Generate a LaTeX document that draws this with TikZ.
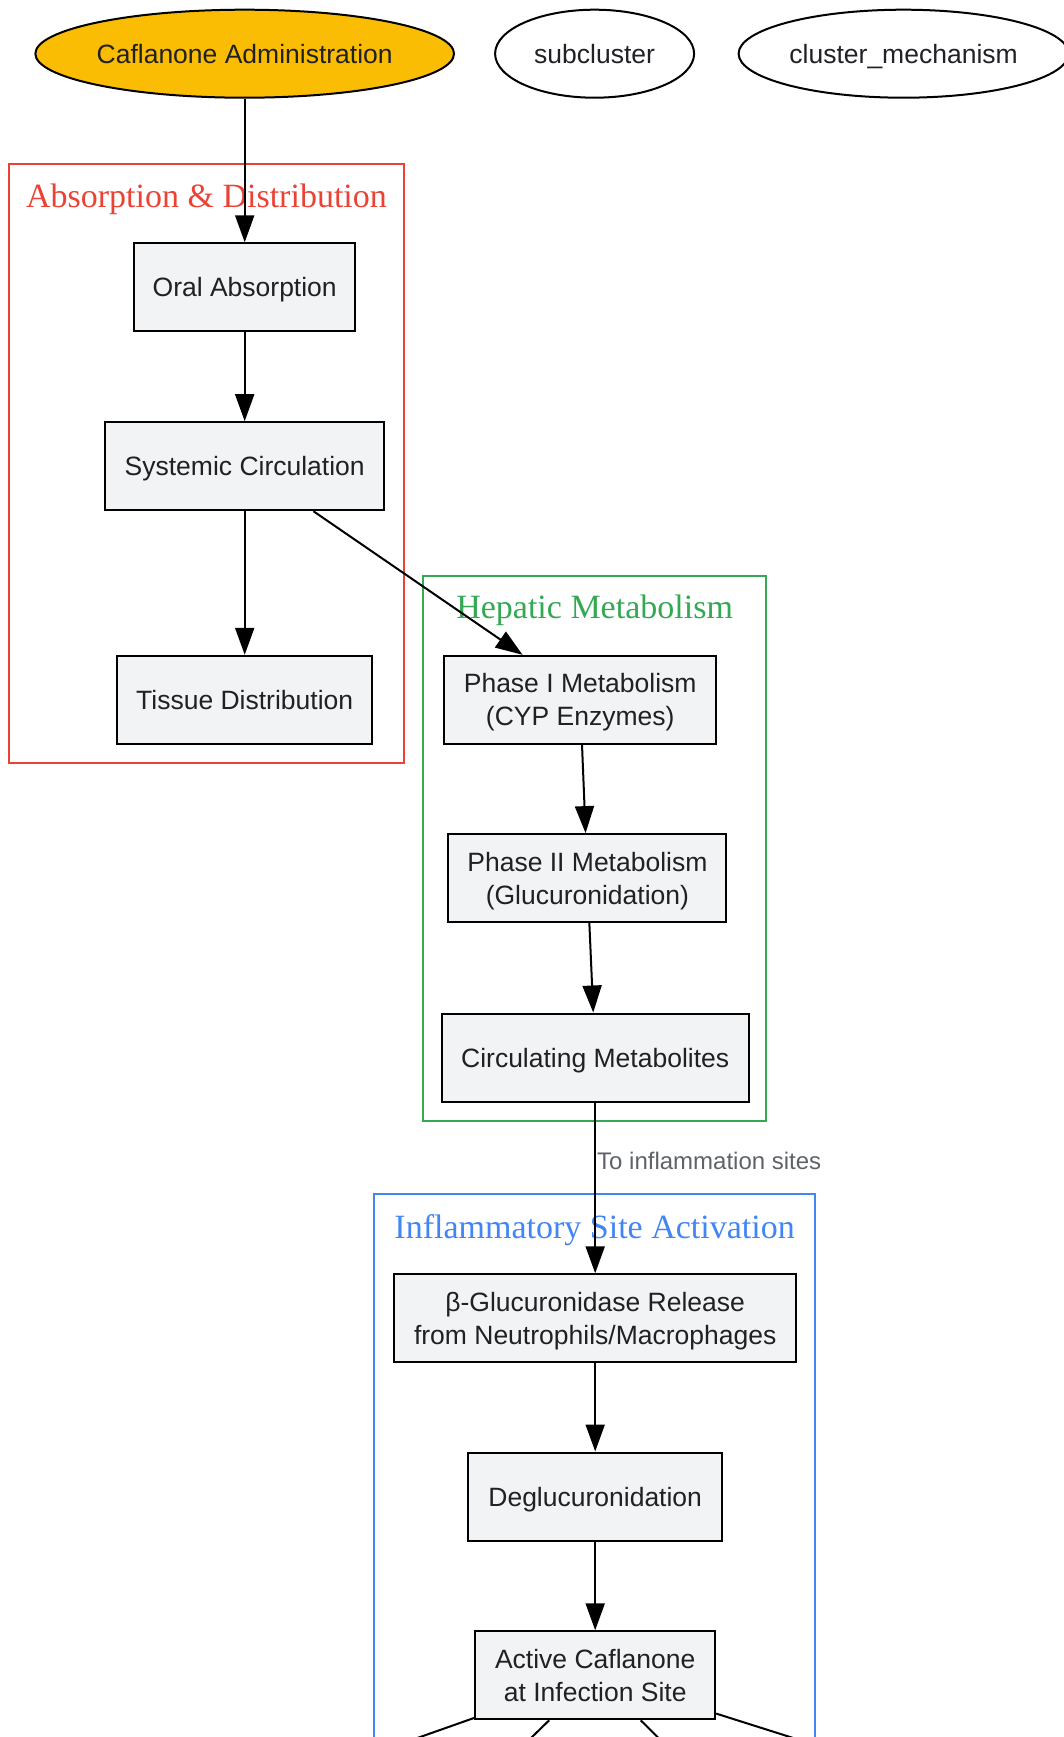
\documentclass[tikz,border=0pt]{standalone}
\usepackage{fontspec}
\setmainfont{Liberation Serif}
\setsansfont{Liberation Sans}
\definecolor{nodefill}{HTML}{F1F3F4}
\definecolor{inktext}{HTML}{202124}
\definecolor{edgegray}{HTML}{5F6368}
\definecolor{startyellow}{HTML}{FBBC04}
\definecolor{absred}{HTML}{EA4335}
\definecolor{hepgreen}{HTML}{34A853}
\definecolor{inflblue}{HTML}{4285F4}
\usetikzlibrary{shapes.geometric,arrows.meta,positioning}

\begin{document}
\begin{tikzpicture}[x=1pt, y=-1pt,
    every node/.style={font=\sffamily\fontsize{26.5}{33}\selectfont, text=inktext},
    procbox/.style={draw, line width=2pt, fill=nodefill, minimum height=88pt, inner sep=0pt, text depth=0pt, align=center},
    oval/.style={draw, ellipse, line width=2pt, minimum height=88pt, inner sep=0pt, text depth=0pt},
    flow/.style={-{Triangle[length=27pt, width=19pt]}, line width=2pt},
    clusterbox/.style={line width=2pt},
    clustertitle/.style={font=\rmfamily\fontsize{34}{40}\selectfont, text depth=0pt}]
    \useasboundingbox (0,0) rectangle (1063,1737);

    % Top row
    \node[oval, fill=startyellow, minimum width=416pt] (admin) at (244.7,53.7) {Caflanone Administration};
    \node[oval, minimum width=199pt] (subc) at (594.6,53.7) {subcluster};
    \node[oval, minimum width=330pt] (mech) at (903.6,53.7) {cluster\_mechanism};

    % Clusters
    \draw[clusterbox, absred] (8.9,163.9) rectangle (404.2,763);
    \node[clustertitle, text=absred] (abstitle) at (206.5,196) {Absorption \& Distribution};
    \draw[clusterbox, hepgreen] (423,575.8) rectangle (766.3,1120.6);
    \node[clustertitle, text=hepgreen] (heptitle) at (594.6,606.8) {Hepatic Metabolism};
    \draw[clusterbox, inflblue] (374.3,1193.7) rectangle (815,1800);
    \node[clustertitle, text=inflblue] (infltitle) at (594.6,1226.9) {Inflammatory Site Activation};

    % Absorption & Distribution
    \node[procbox, minimum width=221pt] (oral) at (244.7,287.3) {Oral Absorption};
    \node[procbox, minimum width=279pt] (sys) at (244.7,466.2) {Systemic Circulation};
    \node[procbox, minimum width=255pt] (tissue) at (244.7,699.8) {Tissue Distribution};

    % Hepatic Metabolism
    \node[procbox, minimum width=272pt] (phase1) at (580.2,699.8) {Phase I Metabolism\\(CYP Enzymes)};
    \node[procbox, minimum width=278pt] (phase2) at (587.4,878.1) {Phase II Metabolism\\(Glucuronidation)};
    \node[procbox, minimum width=307pt] (circ) at (595.2,1057.5) {Circulating Metabolites};

    % Inflammatory Site Activation
    \node[procbox, minimum width=402pt] (release) at (595.2,1318.3) {β-Glucuronidase Release\\from Neutrophils/Macrophages};
    \node[procbox, minimum width=254pt] (deglu) at (595.2,1496.5) {Deglucuronidation};
    \node[procbox, minimum width=240pt] (active) at (595.2,1675.3) {Active Caflanone\\at Infection Site};

    % Off-page ends
    \coordinate (out1) at (245.4,1798.7);
    \coordinate (out2) at (468.8,1798.7);
    \coordinate (out3) at (720,1798.7);
    \coordinate (out4) at (984.8,1798.7);

    % Edges
    \draw[flow] (admin) -- (oral);
    \draw[flow] (oral) -- (sys);
    \draw[flow] (sys) -- (tissue);
    \draw[flow] ([xshift=68.7pt]sys.south) -- ([xshift=-57.6pt]phase1.north);
    \draw[flow] (phase1) -- (phase2);
    \draw[flow] (phase2) -- (circ);
    \draw[flow] (circ) -- node[pos=0.34, anchor=west, inner sep=1pt, font=\sffamily\fontsize{24}{28}\selectfont, text=edgegray] (tolabel) {To inflammation sites} (release);
    \draw[flow] (release) -- (deglu);
    \draw[flow] (deglu) -- (active);
    \draw[flow] (active) -- (out1);
    \draw[flow] (active) -- (out2);
    \draw[flow] (active) -- (out3);
    \draw[flow] (active) -- (out4);
\end{tikzpicture}
\end{document}
